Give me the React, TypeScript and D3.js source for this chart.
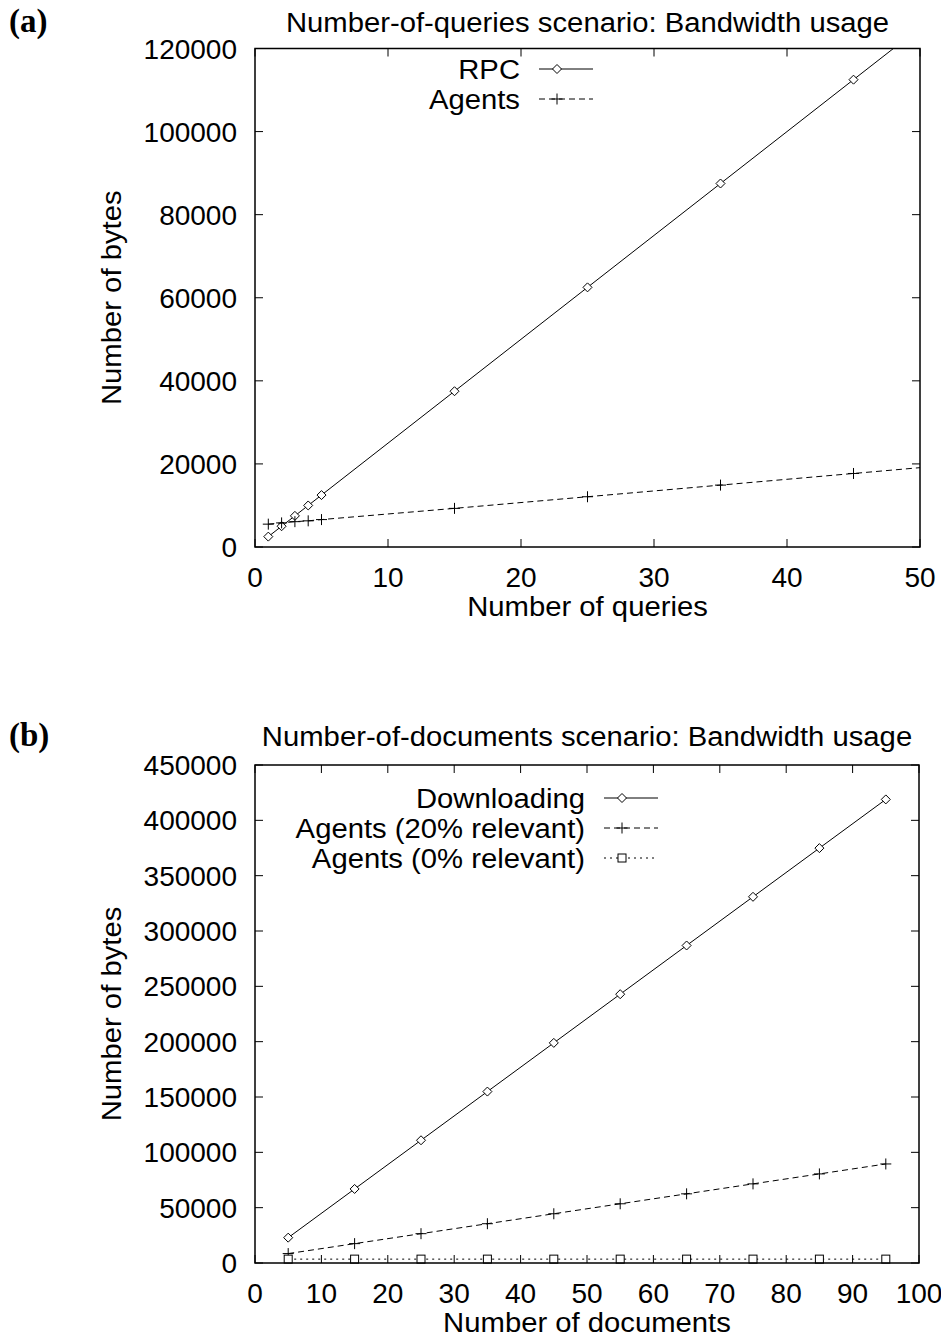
import { useEffect, useRef } from 'react';
import * as d3 from 'd3';

// panel (a): number of queries
const queries = [1, 2, 3, 4, 5, 15, 25, 35, 45, 55];
const rpcBytes = [2500, 5000, 7500, 10000, 12500, 37500, 62500, 87500, 112500, 137500];
const agentsQueryBytes = [5500, 5800, 6100, 6300, 6600, 9300, 12100, 14900, 17700, 20500];
const xTicksA = [0, 10, 20, 30, 40, 50];
const yTicksA = [0, 20000, 40000, 60000, 80000, 100000, 120000];

// panel (b): number of documents
const documents = [5, 15, 25, 35, 45, 55, 65, 75, 85, 95];
const downloadingBytes = [22900, 66900, 110900, 154900, 198900, 242900, 286900, 330900, 374900, 418900];
const agents20Bytes = [8500, 17500, 26500, 35500, 44500, 53500, 62500, 71500, 80500, 89500];
const agents0Bytes = [3500, 3500, 3500, 3500, 3500, 3500, 3500, 3500, 3500, 3500];
const xTicksB = [0, 10, 20, 30, 40, 50, 60, 70, 80, 90, 100];
const yTicksB = [0, 50000, 100000, 150000, 200000, 250000, 300000, 350000, 400000, 450000];

type Marker = 'diamond' | 'plus' | 'square';

interface Series {
  label: string;
  x: number[];
  y: number[];
  dash: string | null;
  marker: Marker;
}

interface PanelSpec {
  id: string;
  tag: string;
  title: string;
  xTitle: string;
  series: Series[];
  xTicks: number[];
  yTicks: number[];
  box: { left: number; right: number; top: number; bottom: number };
  titleY: number;
  legendRight: number;
  legendTop: number;
}

const FONT = '"Liberation Sans", Arial, Helvetica, sans-serif';
const FS = 28;
const WIDEN = 1.045; // gnuplot's Helvetica runs a little wider

const panels: PanelSpec[] = [
  {
    id: 'a',
    tag: '(a)',
    title: 'Number-of-queries scenario: Bandwidth usage',
    xTitle: 'Number of queries',
    series: [
      { label: 'RPC', x: queries, y: rpcBytes, dash: null, marker: 'diamond' },
      { label: 'Agents', x: queries, y: agentsQueryBytes, dash: '6,4', marker: 'plus' },
    ],
    xTicks: xTicksA,
    yTicks: yTicksA,
    box: { left: 255, right: 920, top: 48.5, bottom: 547 },
    titleY: 32,
    legendRight: 520,
    legendTop: 69,
  },
  {
    id: 'b',
    tag: '(b)',
    title: 'Number-of-documents scenario: Bandwidth usage',
    xTitle: 'Number of documents',
    series: [
      { label: 'Downloading', x: documents, y: downloadingBytes, dash: null, marker: 'diamond' },
      { label: 'Agents (20% relevant)', x: documents, y: agents20Bytes, dash: '6,4', marker: 'plus' },
      { label: 'Agents (0% relevant)', x: documents, y: agents0Bytes, dash: '2,4', marker: 'square' },
    ],
    xTicks: xTicksB,
    yTicks: yTicksB,
    box: { left: 255, right: 919, top: 765, bottom: 1263 },
    titleY: 746,
    legendRight: 585,
    legendTop: 798,
  },
];

type G = d3.Selection<SVGGElement, unknown, null, undefined>;

function label(g: G, x: number, y: number, text: string, anchor: string, widen = WIDEN) {
  return g.append('text')
    .attr('transform', `translate(${x},${y}) scale(${widen},1)`)
    .attr('text-anchor', anchor)
    .text(text);
}

function drawMarker(g: G, kind: Marker, cx: number, cy: number) {
  const r = 4.5;
  if (kind === 'diamond') {
    g.append('path')
      .attr('d', `M${cx - r},${cy}L${cx},${cy - r}L${cx + r},${cy}L${cx},${cy + r}Z`)
      .attr('fill', 'white')
      .attr('stroke', 'black')
      .attr('stroke-width', 1);
  } else if (kind === 'plus') {
    g.append('path')
      .attr('d', `M${cx - r - 1},${cy}H${cx + r + 1}M${cx},${cy - r - 1}V${cy + r + 1}`)
      .attr('stroke', 'black')
      .attr('stroke-width', 1);
  } else {
    g.append('rect')
      .attr('x', cx - 4)
      .attr('y', cy - 4)
      .attr('width', 8)
      .attr('height', 8)
      .attr('fill', 'white')
      .attr('stroke', 'black')
      .attr('stroke-width', 1);
  }
}

function drawPanel(svg: d3.Selection<SVGSVGElement, unknown, null, undefined>, p: PanelSpec) {
  const { left, right, top, bottom } = p.box;
  const xDom = [p.xTicks[0], p.xTicks[p.xTicks.length - 1]];
  const yDom = [p.yTicks[0], p.yTicks[p.yTicks.length - 1]];
  const x = d3.scaleLinear().domain(xDom).range([left, right]);
  const y = d3.scaleLinear().domain(yDom).range([bottom, top]);

  const g = svg.append('g').attr('font-family', FONT).attr('font-size', FS);

  // panel tag + title
  g.append('text')
    .attr('x', 9)
    .attr('y', p.titleY)
    .attr('font-family', '"Liberation Serif", "Times New Roman", serif')
    .attr('font-weight', 'bold')
    .attr('font-size', 33)
    .text(p.tag);
  label(g, (left + right) / 2, p.titleY, p.title, 'middle');

  // ticks, mirrored on all sides, pointing inward
  const tick = 8;
  p.yTicks.forEach(v => {
    const yy = y(v);
    g.append('line').attr('x1', left).attr('x2', left + tick).attr('y1', yy).attr('y2', yy).attr('stroke', 'black');
    g.append('line').attr('x1', right).attr('x2', right - tick).attr('y1', yy).attr('y2', yy).attr('stroke', 'black');
    label(g, 237, yy + 10, String(v), 'end', 1);
  });
  p.xTicks.forEach(v => {
    const xx = x(v);
    g.append('line').attr('x1', xx).attr('x2', xx).attr('y1', bottom).attr('y2', bottom - tick).attr('stroke', 'black');
    g.append('line').attr('x1', xx).attr('x2', xx).attr('y1', top).attr('y2', top + tick).attr('stroke', 'black');
    label(g, xx, bottom + 40, String(v), 'middle', 1);
  });

  // axis titles
  label(g, (left + right) / 2, bottom + 69, p.xTitle, 'middle');
  g.append('text')
    .attr('transform', `translate(121,${(top + bottom) / 2}) rotate(-90) scale(${WIDEN},1)`)
    .attr('text-anchor', 'middle')
    .text('Number of bytes');

  // clip region for the lines
  const clipId = `clip-${p.id}`;
  svg.append('clipPath').attr('id', clipId)
    .append('rect').attr('x', left).attr('y', top).attr('width', right - left).attr('height', bottom - top);

  const line = d3.line<[number, number]>().x(d => x(d[0])).y(d => y(d[1]));
  const plot = g.append('g');

  p.series.forEach((s, i) => {
    const pts = s.x.map((xv, k) => [xv, s.y[k]] as [number, number]);
    plot.append('path')
      .attr('d', line(pts))
      .attr('fill', 'none')
      .attr('stroke', 'black')
      .attr('stroke-width', 1)
      .attr('stroke-dasharray', s.dash)
      .attr('clip-path', `url(#${clipId})`);
    const mg = plot.append('g');
    pts.forEach(([xv, yv]) => {
      if (xv < xDom[0] || xv > xDom[1] || yv < yDom[0] || yv > yDom[1]) return;
      drawMarker(mg, s.marker, x(xv), y(yv));
    });

    // legend entry
    const ly = p.legendTop + i * 30;
    label(g, p.legendRight, ly + 10, s.label, 'end');
    const lx0 = p.legendRight + 19;
    g.append('line')
      .attr('x1', lx0).attr('x2', lx0 + 54)
      .attr('y1', ly).attr('y2', ly)
      .attr('stroke', 'black')
      .attr('stroke-dasharray', s.dash);
    drawMarker(g, s.marker, lx0 + 18, ly);
  });

  // frame
  g.append('rect')
    .attr('x', left).attr('y', top)
    .attr('width', right - left).attr('height', bottom - top)
    .attr('fill', 'none')
    .attr('stroke', 'black')
    .attr('stroke-width', 1.5);
}

export default function App() {
  const svgRef = useRef<SVGSVGElement>(null);

  useEffect(() => {
    if (!svgRef.current) return;
    const svg = d3.select(svgRef.current);
    svg.selectAll('*').remove();
    panels.forEach(p => drawPanel(svg, p));
  }, []);

  return (
    <svg
      ref={svgRef}
      width={941}
      height={1338}
      style={{ position: 'absolute', left: 0, top: 0, background: 'white' }}
    />
  );
}
